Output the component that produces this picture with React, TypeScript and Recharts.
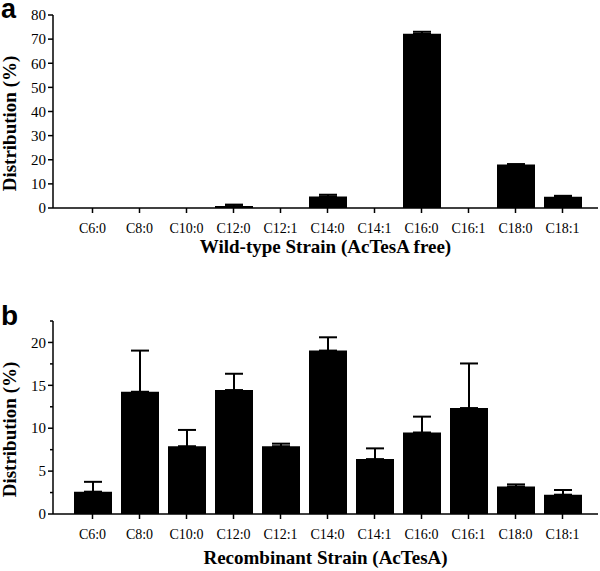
import React from 'react';
import { BarChart, Bar, XAxis, YAxis, ErrorBar } from 'recharts';

const categories = ['C6:0', 'C8:0', 'C10:0', 'C12:0', 'C12:1', 'C14:0', 'C14:1', 'C16:0', 'C16:1', 'C18:0', 'C18:1'];

const wildTypeValues = [0, 0, 0, 0.8, 0, 4.8, 0, 72.2, 0, 18.0, 4.7];
const wildTypeErrors: (number | null)[] = [null, null, null, 0.6, null, 0.7, null, 0.85, null, 0.2, 0.35];

const recombinantValues = [2.6, 14.25, 7.9, 14.45, 7.9, 19.05, 6.4, 9.5, 12.35, 3.2, 2.25];
const recombinantErrors: (number | null)[] = [1.15, 4.8, 1.9, 1.9, 0.3, 1.55, 1.25, 1.85, 5.2, 0.25, 0.55];

const wildTypeTicks = [0, 10, 20, 30, 40, 50, 60, 70, 80];
const wildTypeLabeledTicks = [0, 10, 20, 30, 40, 50, 60, 70, 80];
const recombinantTicks = [0, 2.5, 5, 7.5, 10, 12.5, 15, 17.5, 20, 22.5];
const recombinantLabeledTicks = [0, 5, 10, 15, 20];

const wildTypeTitle = 'Wild-type Strain (AcTesA free)';
const recombinantTitle = 'Recombinant Strain (AcTesA)';
const yTitle = 'Distribution (%)';

const SERIF = '"Liberation Serif", "Times New Roman", serif';
const SANS = '"Liberation Sans", Arial, sans-serif';

const buildRows = (values: number[], errors: (number | null)[]) =>
  categories.map((name, i) => ({
    name,
    value: values[i],
    err: errors[i] == null ? null : [0, errors[i] as number],
  }));

const wildTypeRows = buildRows(wildTypeValues, wildTypeErrors);
const recombinantRows = buildRows(recombinantValues, recombinantErrors);

const XTick = (props: any) => {
  const { x, y, payload } = props;
  return (
    <g>
      <line x1={x} x2={x} y1={y} y2={y + 5} stroke="#000" strokeWidth={1.5} />
      <text x={x} y={y + 25} textAnchor="middle" fontFamily={SERIF} fontSize={14} fill="#000">
        {payload.value}
      </text>
    </g>
  );
};

const makeYTick = (labeled: number[]) => (props: any) => {
  const { x, y, payload } = props;
  const v = payload.value;
  const major = labeled.includes(v);
  return (
    <g>
      <line x1={x - (major ? 5 : 3)} x2={x} y1={y} y2={y} stroke="#000" strokeWidth={1.5} />
      {major && (
        <text x={x - 7} y={y} dy="0.35em" textAnchor="end" fontFamily={SERIF} fontSize={15} fill="#000">
          {v}
        </text>
      )}
    </g>
  );
};

const YTitle = (props: any) => {
  const vb = props.viewBox || { x: 0, y: 0, width: 0, height: 0 };
  const cx = vb.x + 15.5;
  const cy = vb.y + vb.height / 2 + 12;
  return (
    <text
      x={cx}
      y={cy}
      transform={`rotate(-90 ${cx} ${cy})`}
      textAnchor="middle"
      fontFamily={SERIF}
      fontWeight="bold"
      fontSize={19}
      fill="#000"
    >
      {yTitle}
    </text>
  );
};

const axisLineStyle = { stroke: '#000', strokeWidth: 1.5 };

const Panel = ({
  rows,
  ticks,
  labeled,
  domainMax,
  title,
  height,
  marginTop,
  xAxisHeight,
  titleOffset,
}: any) => (
  <BarChart
    width={600}
    height={height}
    data={rows}
    margin={{ top: marginTop, right: 2, left: 0, bottom: 0 }}
    barCategoryGap={0}
  >
    <XAxis
      dataKey="name"
      interval={0}
      height={xAxisHeight}
      padding={{ left: 16, right: 12 }}
      tickSize={0}
      tickMargin={0}
      tickLine={false}
      axisLine={axisLineStyle}
      tick={<XTick />}
      label={{
        value: title,
        position: 'insideBottom',
        offset: titleOffset,
        style: { fontFamily: SERIF, fontWeight: 'bold', fontSize: 19, fill: '#000' },
      }}
    />
    <YAxis
      width={53}
      type="number"
      domain={[0, domainMax]}
      ticks={ticks}
      interval={0}
      tickSize={0}
      tickMargin={0}
      tickLine={false}
      axisLine={axisLineStyle}
      tick={makeYTick(labeled)}
      label={<YTitle />}
    />
    <Bar dataKey="value" fill="#000" barSize={38} isAnimationActive={false}>
      <ErrorBar dataKey="err" direction="y" width={9} stroke="#000" strokeWidth={2} isAnimationActive={false} />
    </Bar>
  </BarChart>
);

export default function App() {
  return (
    <div style={{ position: 'absolute', left: 0, top: 0, width: 600, height: 571, background: '#fff' }}>
      <div style={{ position: 'absolute', left: 0, top: 0 }}>
        <Panel
          rows={wildTypeRows}
          ticks={wildTypeTicks}
          labeled={wildTypeLabeledTicks}
          domainMax={80}
          title={wildTypeTitle}
          height={270}
          marginTop={15}
          xAxisHeight={62}
          titleOffset={17}
        />
      </div>
      <div style={{ position: 'absolute', left: 0, top: 270 }}>
        <Panel
          rows={recombinantRows}
          ticks={recombinantTicks}
          labeled={recombinantLabeledTicks}
          domainMax={22.5}
          title={recombinantTitle}
          height={301}
          marginTop={51}
          xAxisHeight={57}
          titleOffset={7}
        />
      </div>
      <svg style={{ position: 'absolute', left: 0, top: 0 }} width={40} height={30}>
        <text x={1} y={18} fontFamily={SANS} fontWeight="bold" fontSize={27} fill="#000">a</text>
      </svg>
      <svg style={{ position: 'absolute', left: 0, top: 295 }} width={40} height={40}>
        <text x={1} y={30} fontFamily={SANS} fontWeight="bold" fontSize={28} fill="#000">b</text>
      </svg>
    </div>
  );
}
